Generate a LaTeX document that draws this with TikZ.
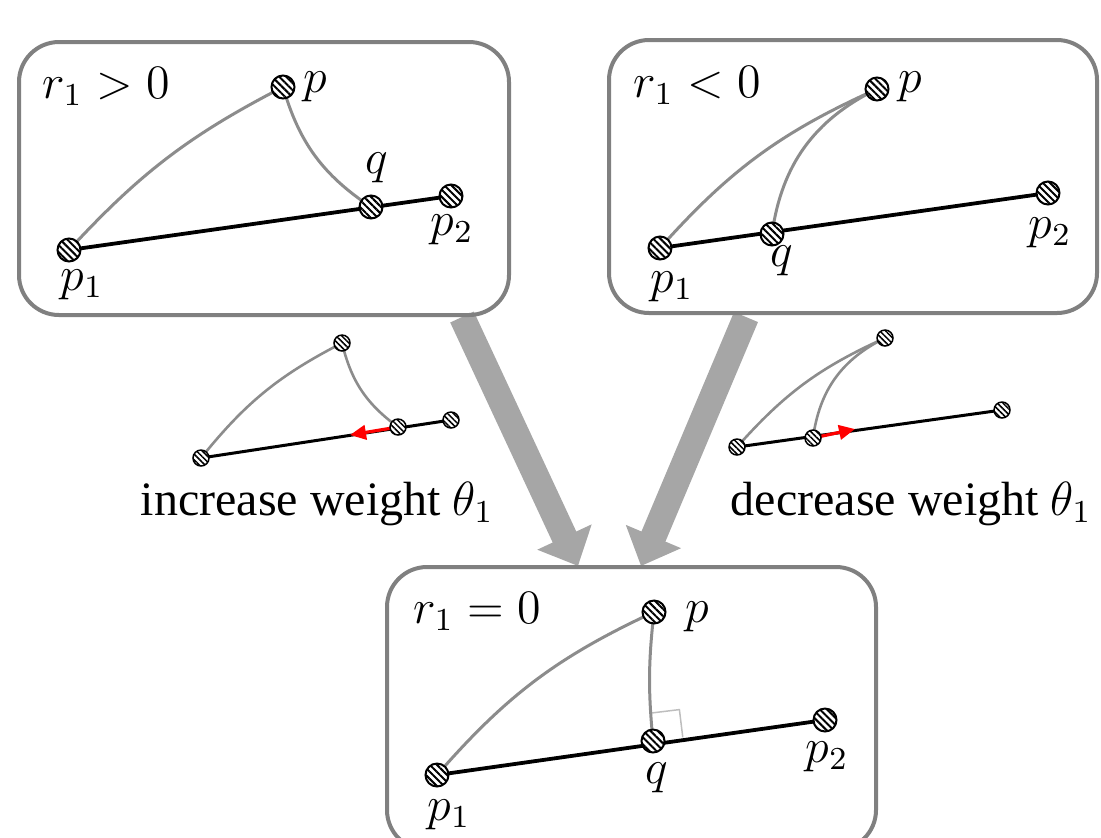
\documentclass[tikz,border=0pt]{standalone}
\usepackage{fontspec}
\setmainfont{Liberation Serif}
\usetikzlibrary{arrows.meta,patterns.meta,calc}
\definecolor{boxgray}{RGB}{128,128,128}
\definecolor{curvegray}{RGB}{140,140,140}
\definecolor{arrowgray}{RGB}{166,166,166}
\definecolor{anglegray}{RGB}{190,190,190}
\begin{document}
\begin{tikzpicture}[x=0.25pt,y=0.25pt,
  font=\fontsize{12}{14.5}\selectfont,
  panel/.style={draw=boxgray, line width=1pt, rounded corners=10pt, inner sep=0pt, outer sep=0pt},
  bigpt/.style={circle, draw=black, line width=0.5pt, minimum size=5.75pt, inner sep=0pt, preaction={fill=white}, pattern={Lines[angle=-45,distance=1.25pt,line width=0.5pt]}},
  smallpt/.style={circle, draw=black, line width=0.375pt, minimum size=4pt, inner sep=0pt, preaction={fill=white}, pattern={Lines[angle=-45,distance=1pt,line width=0.375pt]}},
  seg/.style={draw=black, line width=0.95pt},
  arcline/.style={draw=curvegray, line width=0.75pt},
  sseg/.style={draw=black, line width=0.75pt},
  sarc/.style={draw=curvegray, line width=0.65pt},
  bigarrow/.style={draw=arrowgray, line width=6.5pt, -{Triangle[length=8pt 0 0,width=14.5pt 0 0]}},
  redarrow/.style={draw=red, line width=0.8pt, -{Triangle[length=4pt 0 0,width=3.6pt 0 0]}},
  lbl/.style={inner sep=0pt, anchor=base west},
]
\useasboundingbox (0,0) rectangle (1101,-837);

% big gray arrows
\coordinate (a1s) at (462,-317);
\coordinate (a1e) at (578,-566);
\coordinate (a2s) at (746,-317);
\coordinate (a2e) at (641,-566);
\draw[bigarrow] (a1s) -- (a1e);
\draw[bigarrow] (a2s) -- (a2e);

% panels
\node[panel, minimum width=122.5pt, minimum height=68.25pt] (boxA) at (264,-178.5) {};
\node[panel, minimum width=122pt, minimum height=68.25pt] (boxB) at (853,-176.5) {};
\node[panel, minimum width=122.25pt, minimum height=70.75pt] (boxC) at (631.5,-708.5) {};

% ---------- panel A : r1 > 0
\coordinate (Ap1) at (69,-250);
\coordinate (Ap)  at (283,-87);
\coordinate (Aq)  at (371,-207);
\coordinate (Ap2) at (451,-196);
\draw[seg] (Ap1) -- (Ap2);
\draw[arcline] (Ap1) to[bend left=10] (Ap);
\draw[arcline] (Ap) to[bend right=20] (Aq);
\node[bigpt] (nAp1) at (Ap1) {};
\node[bigpt] (nAp)  at (Ap) {};
\node[bigpt] (nAq)  at (Aq) {};
\node[bigpt] (nAp2) at (Ap2) {};
\node[lbl] (tA)   at (42,-98)  {$r_1>0$};
\node[lbl] (lAp)  at (303,-92) {$p$};
\node[lbl] (lAq)  at (365,-173) {$q$};
\node[lbl] (lAp2) at (430,-235) {$p_2$};
\node[lbl] (lAp1) at (60,-290) {$p_1$};

% ---------- panel B : r1 < 0
\coordinate (Bp1) at (660,-248);
\coordinate (Bp)  at (877,-89);
\coordinate (Bq)  at (772,-234);
\coordinate (Bp2) at (1048,-193);
\draw[seg] (Bp1) -- (Bp2);
\draw[arcline] (Bp1) to[bend left=12] (Bp);
\draw[arcline] (Bq) to[bend left=28] (Bp);
\node[bigpt] (nBp1) at (Bp1) {};
\node[bigpt] (nBp)  at (Bp) {};
\node[bigpt] (nBq)  at (Bq) {};
\node[bigpt] (nBp2) at (Bp2) {};
\node[lbl] (tB)   at (633,-97)  {$r_1<0$};
\node[lbl] (lBp)  at (898,-92) {$p$};
\node[lbl] (lBq)  at (770,-266) {$q$};
\node[lbl] (lBp2) at (1028,-238) {$p_2$};
\node[lbl] (lBp1) at (650,-292) {$p_1$};

% ---------- panel C : r1 = 0
\coordinate (Cp1) at (437,-775);
\coordinate (Cp)  at (654,-612);
\coordinate (Cq)  at (653,-741);
\coordinate (Cp2) at (825,-720);
\draw[seg] (Cp1) -- (Cp2);
\coordinate (Cs1) at ($(Cq)!7.5pt!(Cp2)$);
\coordinate (Cs3) at ($(Cq)!7pt!90:(Cp2)$);
\draw[draw=anglegray, line width=0.375pt] (Cs3) -- ($(Cs3)+(Cs1)-(Cq)$) -- (Cs1);
\draw[arcline] (Cp1) to[bend left=12] (Cp);
\draw[arcline] (Cq) to[bend left=6] (Cp);
\node[bigpt] (nCp1) at (Cp1) {};
\node[bigpt] (nCp)  at (Cp) {};
\node[bigpt] (nCq)  at (Cq) {};
\node[bigpt] (nCp2) at (Cp2) {};
\node[lbl] (tC)   at (413,-623)  {$r_1=0$};
\node[lbl] (lCp)  at (685,-622) {$p$};
\node[lbl] (lCq)  at (645,-783) {$q$};
\node[lbl] (lCp2) at (805,-762) {$p_2$};
\node[lbl] (lCp1) at (427,-820) {$p_1$};

% ---------- small left diagram
\coordinate (Dp1) at (201,-458);
\coordinate (Dp)  at (342,-343);
\coordinate (Dq)  at (398,-427);
\coordinate (Dp2) at (451,-420);
\coordinate (Dt)  at (350,-435);
\draw[sseg] (Dp1) -- (Dp2);
\draw[sarc] (Dp1) to[bend left=12] (Dp);
\draw[sarc] (Dp) to[bend right=20] (Dq);
\draw[redarrow] (Dq) -- (Dt);
\node[smallpt] (nDp1) at (Dp1) {};
\node[smallpt] (nDp)  at (Dp) {};
\node[smallpt] (nDq)  at (Dq) {};
\node[smallpt] (nDp2) at (Dp2) {};
\node[lbl] (tD) at (140,-515) {increase weight $\theta_1$};

% ---------- small right diagram
\coordinate (Ep1) at (737,-447);
\coordinate (Ep)  at (885,-338);
\coordinate (Eq)  at (813,-438);
\coordinate (Ep2) at (1002,-410);
\coordinate (Et)  at (855,-429);
\draw[sseg] (Ep1) -- (Ep2);
\draw[sarc] (Ep1) to[bend left=12] (Ep);
\draw[sarc] (Eq) to[bend left=28] (Ep);
\draw[redarrow] (Eq) -- (Et);
\node[smallpt] (nEp1) at (Ep1) {};
\node[smallpt] (nEp)  at (Ep) {};
\node[smallpt] (nEq)  at (Eq) {};
\node[smallpt] (nEp2) at (Ep2) {};
\node[lbl] (tE) at (730,-515) {decrease weight $\theta_1$};
\end{tikzpicture}
\end{document}
